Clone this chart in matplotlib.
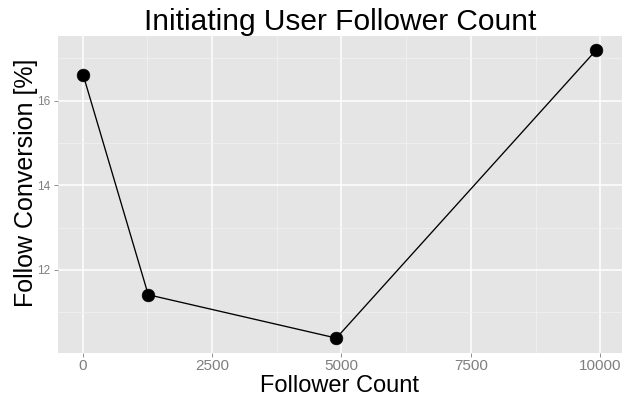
import matplotlib
matplotlib.use("Agg")
import matplotlib.pyplot as plt
from matplotlib.ticker import MultipleLocator

plt.rcParams['font.family'] = ['Liberation Sans', 'DejaVu Sans']

# data
followers = [10, 1267, 4900, 9923]
conversion = [16.61, 11.41, 10.385, 17.2]
xticks = [0, 2500, 5000, 7500, 10000]
yticks = [12, 14, 16]

W, H = 626, 400
fig = plt.figure(figsize=(W / 100, H / 100), dpi=100)
ax = fig.add_axes([57.5 / W, 1 - 352.5 / H, (622 - 57.5) / W, (352.5 - 35.5) / H])
ax.set_facecolor('#E5E5E5')
for s in ax.spines.values():
    s.set_visible(False)

ax.plot(followers, conversion, '-', color='black', lw=0.95, zorder=3)
ax.plot(followers, conversion, 'o', color='black', ms=9.2, mew=0.4, zorder=4)
ax.margins(0.05)

ax.set_xticks(xticks)
ax.set_yticks(yticks)
ax.xaxis.set_minor_locator(MultipleLocator(1250))
ax.yaxis.set_minor_locator(MultipleLocator(1))
ax.set_xticklabels([str(t) for t in xticks])
ax.grid(which='major', color='white', lw=1.1)
ax.grid(which='minor', color='#F2F2F2', lw=0.5)
ax.set_axisbelow(True)
ax.tick_params(which='major', length=3, width=0.6, color='#7F7F7F', pad=2)
ax.tick_params(which='minor', length=0)
ax.tick_params(axis='x', labelsize=11, labelcolor='#7F7F7F')
ax.tick_params(axis='y', labelsize=8.5, labelcolor='#7F7F7F')

cx = (57.5 + 622) / 2 / W
fig.text(cx, 1 - 29.5 / H, 'Initiating User Follower Count', ha='center', va='baseline', fontsize=21.5)
fig.text(cx, 1 - 392 / H, 'Follower Count', ha='center', va='baseline', fontsize=17)
fig.text(26 / W, 1 - 183 / H, 'Follow Conversion [%]', ha='center', va='center', rotation=90, fontsize=18)

fig.savefig('out.png', dpi=100)
